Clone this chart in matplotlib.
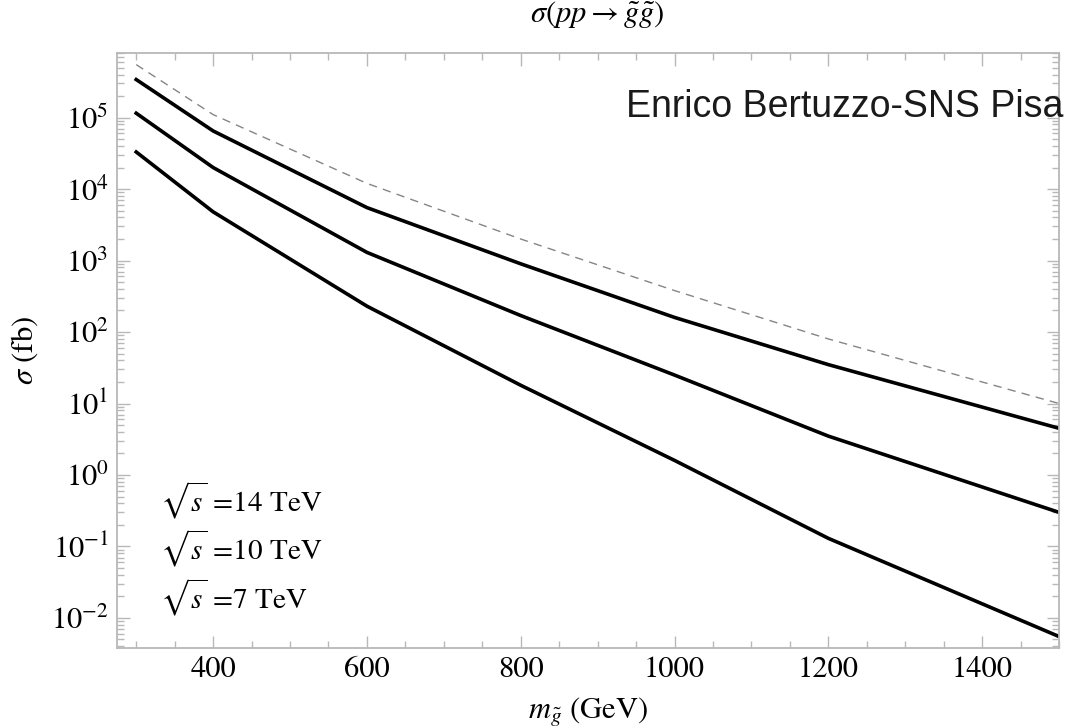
import matplotlib
matplotlib.use("Agg")
import matplotlib.pyplot as plt
from matplotlib.ticker import LogLocator, MultipleLocator, NullFormatter, FixedLocator

plt.rcParams['font.family'] = ['STIXGeneral', 'DejaVu Serif']
plt.rcParams['mathtext.fontset'] = 'stix'

# data
mass = [300, 400, 600, 800, 1000, 1200, 1500]
sigma_dashed = [5.5e5, 1.1e5, 1.2e4, 2.0e3, 380, 80, 10.0]
sigma_14 = [3.4e5, 6.5e4, 5.5e3, 900, 160, 35, 4.5]
sigma_10 = [1.15e5, 2.0e4, 1.3e3, 170, 25, 3.5, 0.3]
sigma_7 = [3.3e4, 4.8e3, 230, 18, 1.6, 0.13, 0.0055]
labels = [r'$\sqrt{s}$ =14 TeV', r'$\sqrt{s}$ =10 TeV', r'$\sqrt{s}$ =7 TeV']
xticks = [400, 600, 800, 1000, 1200, 1400]
yticks = [1e-2, 1e-1, 1e0, 1e1, 1e2, 1e3, 1e4, 1e5]

fig = plt.figure(figsize=(10.66, 7.28), dpi=100)
ax = fig.add_axes([117/1066, 1-648/728, (1059-117)/1066, (648-53)/728])

ax.plot(mass, sigma_dashed, color='#858585', lw=1.0, ls=(0, (6, 4.5)))
for s in (sigma_14, sigma_10, sigma_7):
    ax.plot(mass, s, color='black', lw=2.6, solid_joinstyle='round')

ax.set_yscale('log')
ax.set_xlim(275, 1500)
ax.set_ylim(3.8e-3, 8e5)

ax.set_xticks(xticks)
ax.xaxis.set_minor_locator(MultipleLocator(50))
ax.yaxis.set_major_locator(FixedLocator(yticks))
ax.yaxis.set_minor_locator(LogLocator(base=10, subs=range(2, 10), numticks=100))
ax.yaxis.set_minor_formatter(NullFormatter())

frame_col = '#b8b8b8'
for sp in ax.spines.values():
    sp.set_color(frame_col)
    sp.set_linewidth(1.3)
ax.tick_params(which='both', direction='in', top=True, right=True, color=frame_col, width=1.0)
ax.tick_params(which='major', length=9, labelsize=22, pad=6)
ax.tick_params(which='minor', length=5)

ax.set_xlabel(r'$m_{\tilde{g}}$ (GeV)', fontsize=22, labelpad=8)
ax.set_ylabel(r'$\sigma$ (fb)', fontsize=22, labelpad=8)
fig.text(597/1066, 1-14/728, r'$\sigma(pp \rightarrow \tilde{g}\tilde{g})$', fontsize=22,
         ha='center', va='center')

ys = [500, 548, 597]
for lab, yp in zip(labels, ys):
    fig.text(160/1066, 1-yp/728, lab, fontsize=21, ha='left', va='center')

fig.text(1063/1066, 1-117/728, 'Enrico Bertuzzo-SNS Pisa', fontsize=27,
         family='Liberation Sans', color='#1a1a1a', ha='right', va='baseline')

fig.savefig('out.png', dpi=100)
